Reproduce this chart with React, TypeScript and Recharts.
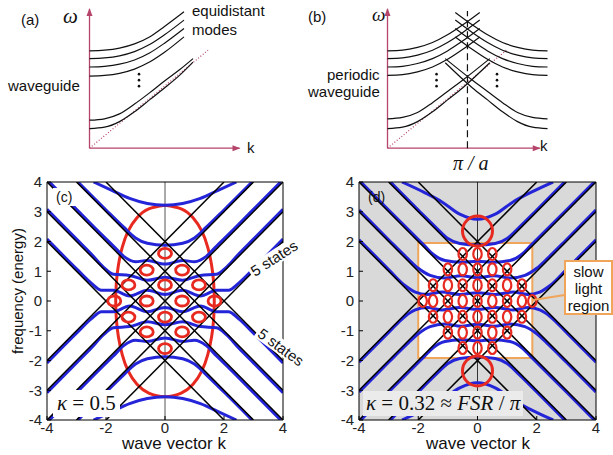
import React from 'react';
import { ComposedChart, Line, Scatter, XAxis, YAxis, ReferenceLine, ReferenceArea } from 'recharts';

type Pt = [number, number];

// ---------- (a) plain waveguide, schematic units ----------
const aUpperModes: Pt[][] = [
  [[0, 6.95], [1, 7.0], [2, 7.15], [3, 7.45], [4, 7.95], [5, 8.7], [6.3, 9.75]],
  [[0, 6.4], [1, 6.45], [2, 6.6], [3, 6.9], [4, 7.4], [5, 8.1], [6.3, 9.15]],
  [[0, 5.8], [1, 5.85], [2, 6.0], [3, 6.3], [4, 6.8], [5, 7.5], [6.3, 8.55]],
  [[0, 5.15], [1, 5.2], [2, 5.35], [3, 5.65], [4, 6.15], [5, 6.85], [6.3, 7.95]],
];
const aLowerModes: Pt[][] = [
  [[0, 2.0], [1, 2.1], [2, 2.45], [3, 3.15], [4, 3.95], [5, 4.8], [6, 5.6], [6.9, 6.4]],
  [[0, 1.4], [1, 1.5], [2, 1.9], [3, 2.6], [4, 3.45], [5, 4.3], [6, 5.2], [6.9, 6.15]],
];
const aLightLine: Pt[] = [[0, 0], [7.9, 7.0]];
const aDots: Pt[] = [[3.3, 5.29], [3.3, 4.86], [3.3, 4.43]];

// ---------- (b) periodic waveguide ----------
const bZoneEdge = 5.33;
const bRising: Pt[][] = [
  [[0, 6.95], [1, 7.0], [2, 7.2], [3, 7.55], [4, 8.1], [5, 8.8], [6.15, 9.7]],
  [[0, 6.4], [1, 6.45], [2, 6.65], [3, 7.0], [4, 7.55], [5, 8.25], [6.15, 9.15]],
  [[0, 5.8], [1, 5.85], [2, 6.05], [3, 6.4], [4, 6.95], [5, 7.65], [6.15, 8.55]],
  [[0, 5.2], [1, 5.25], [2, 5.45], [3, 5.8], [4, 6.35], [5, 7.05], [6.15, 7.95]],
];
const bFalling: Pt[][] = [
  [[4.52, 9.7], [5.67, 8.8], [6.67, 8.1], [7.67, 7.55], [8.67, 7.2], [9.67, 7.0], [10.67, 6.95]],
  [[4.52, 9.15], [5.67, 8.25], [6.67, 7.55], [7.67, 7.0], [8.67, 6.65], [9.67, 6.45], [10.67, 6.4]],
  [[4.52, 8.55], [5.67, 7.65], [6.67, 6.95], [7.67, 6.4], [8.67, 6.05], [9.67, 5.85], [10.67, 5.8]],
  [[4.52, 7.95], [5.67, 7.05], [6.67, 6.35], [7.67, 5.8], [8.67, 5.45], [9.67, 5.25], [10.67, 5.2]],
];
const bLowRising: Pt[][] = [
  [[0, 2.1], [1, 2.2], [2, 2.55], [3, 3.25], [4, 4.05], [5, 4.85], [6.82, 6.4]],
  [[0, 1.4], [1, 1.5], [2, 1.9], [3, 2.6], [4, 3.45], [5, 4.3], [6.82, 6.1]],
];
const bLowFalling: Pt[][] = [
  [[3.85, 6.4], [5.67, 4.85], [6.67, 4.05], [7.67, 3.25], [8.67, 2.55], [9.67, 2.2], [10.67, 2.1]],
  [[3.85, 6.1], [5.67, 4.3], [6.67, 3.45], [7.67, 2.6], [8.67, 1.9], [9.67, 1.5], [10.67, 1.4]],
];
const bLightLine: Pt[] = [[0, 0], [7.93, 7.0]];
const bDots: Pt[] = [[3.27, 5.29], [3.27, 4.86], [3.27, 4.43], [7.3, 5.29], [7.3, 4.86], [7.3, 4.43]];

// ---------- (c) / (d) band diagrams ----------
const kTicks = [-4, -2, 0, 2, 4];
const wTicks = [-4, -3, -2, -1, 0, 1, 2, 3, 4];

const bareForward: Pt[][] = [
  [[-2, -4], [4, 2]],
  [[-3, -4], [4, 3]],
  [[-4, -4], [4, 4]],
  [[-4, -3], [3, 4]],
  [[-4, -2], [2, 4]],
];
const bareBackward: Pt[][] = [
  [[-4, 2], [2, -4]],
  [[-4, 3], [3, -4]],
  [[-4, 4], [4, -4]],
  [[-3, 4], [4, -3]],
  [[-2, 4], [4, -2]],
];

const cBandsUpper: Pt[][] = [
  [[-4, 2.08], [-3, 1.08], [-2.5, 0.6], [-2.15, 0.36], [-1.75, 0.36], [-1.2, 0.17], [-0.6, 0.36], [0, 0.22], [0.6, 0.36], [1.2, 0.17], [1.75, 0.36], [2.15, 0.36], [2.5, 0.6], [3, 1.08], [4, 2.08]],
  [[-4, 3.08], [-3, 2.08], [-2.5, 1.58], [-2.1, 1.15], [-1.75, 0.9], [-1.2, 0.86], [-0.6, 0.7], [0, 0.8], [0.6, 0.7], [1.2, 0.86], [1.75, 0.9], [2.1, 1.15], [2.5, 1.58], [3, 2.08], [4, 3.08]],
  [[-3.92, 4], [-3, 3.08], [-2.2, 2.28], [-1.75, 1.85], [-1.4, 1.5], [-1.0, 1.32], [-0.6, 1.36], [0, 1.24], [0.6, 1.36], [1.0, 1.32], [1.4, 1.5], [1.75, 1.85], [2.2, 2.28], [3, 3.08], [3.92, 4]],
  [[-2.95, 4], [-2, 3.06], [-1.4, 2.48], [-1.0, 2.12], [-0.6, 1.94], [0, 1.87], [0.6, 1.94], [1.0, 2.12], [1.4, 2.48], [2, 3.06], [2.95, 4]],
  [[-2.42, 4], [-1.8, 3.72], [-1.2, 3.45], [-0.6, 3.28], [0, 3.22], [0.6, 3.28], [1.2, 3.45], [1.8, 3.72], [2.42, 4]],
];
const cBandsLower: Pt[][] = [
  [[-4, -2.08], [-3, -1.08], [-2.5, -0.6], [-2.15, -0.36], [-1.75, -0.36], [-1.2, -0.17], [-0.6, -0.36], [0, -0.22], [0.6, -0.36], [1.2, -0.17], [1.75, -0.36], [2.15, -0.36], [2.5, -0.6], [3, -1.08], [4, -2.08]],
  [[-4, -3.08], [-3, -2.08], [-2.5, -1.58], [-2.1, -1.15], [-1.75, -0.9], [-1.2, -0.86], [-0.6, -0.7], [0, -0.8], [0.6, -0.7], [1.2, -0.86], [1.75, -0.9], [2.1, -1.15], [2.5, -1.58], [3, -2.08], [4, -3.08]],
  [[-3.92, -4], [-3, -3.08], [-2.2, -2.28], [-1.75, -1.85], [-1.4, -1.5], [-1.0, -1.32], [-0.6, -1.36], [0, -1.24], [0.6, -1.36], [1.0, -1.32], [1.4, -1.5], [1.75, -1.85], [2.2, -2.28], [3, -3.08], [3.92, -4]],
  [[-2.95, -4], [-2, -3.06], [-1.4, -2.48], [-1.0, -2.12], [-0.6, -1.94], [0, -1.87], [0.6, -1.94], [1.0, -2.12], [1.4, -2.48], [2, -3.06], [2.95, -4]],
  [[-2.42, -4], [-1.8, -3.72], [-1.2, -3.45], [-0.6, -3.28], [0, -3.22], [0.6, -3.28], [1.2, -3.45], [1.8, -3.72], [2.42, -4]],
];
const cEllipse: Pt[] = [
  [0, 3.22], [0.55, 3.1], [0.95, 2.8], [1.25, 2.35], [1.45, 1.8], [1.58, 1.2], [1.65, 0.6], [1.67, 0],
  [1.65, -0.6], [1.58, -1.2], [1.45, -1.8], [1.25, -2.35], [0.95, -2.8], [0.55, -3.1], [0, -3.22],
  [-0.55, -3.1], [-0.95, -2.8], [-1.25, -2.35], [-1.45, -1.8], [-1.58, -1.2], [-1.65, -0.6], [-1.67, 0],
  [-1.65, 0.6], [-1.58, 1.2], [-1.45, 1.8], [-1.25, 2.35], [-0.95, 2.8], [-0.55, 3.1], [0, 3.22],
];
const cLoops: Pt[] = [
  [0, 1.6], [0, 0.54], [0, -0.54], [0, -1.6],
  [-0.62, 1.04], [0.58, 1.04], [-0.62, 0], [0.58, 0], [-0.62, -1.04], [0.58, -1.04],
  [-1.24, 0.54], [1.15, 0.54], [-1.24, -0.54], [1.15, -0.54],
  [-1.72, 0], [1.68, 0],
];

const dBandsUpper: Pt[][] = [
  [[-4, 2.06], [-3, 1.06], [-2.45, 0.52], [-2.1, 0.3], [-1.7, 0.22], [-1.2, 0.3], [-0.6, 0.22], [0, 0.28], [0.6, 0.22], [1.2, 0.3], [1.7, 0.22], [2.1, 0.3], [2.45, 0.52], [3, 1.06], [4, 2.06]],
  [[-4, 3.06], [-3, 2.06], [-2.4, 1.47], [-2.0, 1.1], [-1.6, 0.86], [-1.1, 0.77], [-0.55, 0.85], [0, 0.78], [0.55, 0.85], [1.1, 0.77], [1.6, 0.86], [2.0, 1.1], [2.4, 1.47], [3, 2.06], [4, 3.06]],
  [[-3.94, 4], [-3, 3.06], [-2.2, 2.27], [-1.8, 1.87], [-1.5, 1.57], [-1.1, 1.36], [-0.55, 1.3], [0, 1.34], [0.55, 1.3], [1.1, 1.36], [1.5, 1.57], [1.8, 1.87], [2.2, 2.27], [3, 3.06], [3.94, 4]],
  [[-2.94, 4], [-2, 3.06], [-1.4, 2.47], [-1.0, 2.1], [-0.6, 1.93], [0, 1.88], [0.6, 1.93], [1.0, 2.1], [1.4, 2.47], [2, 3.06], [2.94, 4]],
  [[-2.55, 4], [-1.8, 3.65], [-1.2, 3.33], [-0.6, 2.92], [0, 2.75], [0.6, 2.92], [1.2, 3.33], [1.8, 3.65], [2.55, 4]],
];
const dBandsLower: Pt[][] = [
  [[-4, -2.06], [-3, -1.06], [-2.45, -0.52], [-2.1, -0.3], [-1.7, -0.22], [-1.2, -0.3], [-0.6, -0.22], [0, -0.28], [0.6, -0.22], [1.2, -0.3], [1.7, -0.22], [2.1, -0.3], [2.45, -0.52], [3, -1.06], [4, -2.06]],
  [[-4, -3.06], [-3, -2.06], [-2.4, -1.47], [-2.0, -1.1], [-1.6, -0.86], [-1.1, -0.77], [-0.55, -0.85], [0, -0.78], [0.55, -0.85], [1.1, -0.77], [1.6, -0.86], [2.0, -1.1], [2.4, -1.47], [3, -2.06], [4, -3.06]],
  [[-3.94, -4], [-3, -3.06], [-2.2, -2.27], [-1.8, -1.87], [-1.5, -1.57], [-1.1, -1.36], [-0.55, -1.3], [0, -1.34], [0.55, -1.3], [1.1, -1.36], [1.5, -1.57], [1.8, -1.87], [2.2, -2.27], [3, -3.06], [3.94, -4]],
  [[-2.94, -4], [-2, -3.06], [-1.4, -2.47], [-1.0, -2.1], [-0.6, -1.93], [0, -1.88], [0.6, -1.93], [1.0, -2.1], [1.4, -2.47], [2, -3.06], [2.94, -4]],
  [[-2.55, -4], [-1.8, -3.65], [-1.2, -3.33], [-0.6, -2.92], [0, -2.75], [0.6, -2.92], [1.2, -3.33], [1.8, -3.65], [2.55, -4]],
];
const dLoops: Pt[] = [
  [-1.85, 0], [-1.5, 0], [-1, 0], [-0.5, 0], [0, 0], [0.5, 0], [1, 0], [1.5, 0], [1.85, 0],
  [-1.5, 0.53], [-1, 0.53], [-0.5, 0.53], [0, 0.53], [0.5, 0.53], [1, 0.53], [1.5, 0.53],
  [-1.5, -0.53], [-1, -0.53], [-0.5, -0.53], [0, -0.53], [0.5, -0.53], [1, -0.53], [1.5, -0.53],
  [-1, 1.06], [-0.5, 1.06], [0, 1.06], [0.5, 1.06], [1, 1.06],
  [-1, -1.06], [-0.5, -1.06], [0, -1.06], [0.5, -1.06], [1, -1.06],
  [-0.5, 1.58], [0, 1.58], [0.5, 1.58],
  [-0.5, -1.58], [0, -1.58], [0.5, -1.58],
];
const dRings: Pt[] = [[0, 2.35], [0, -2.35]];
const slowK: Pt = [-2, 1.85];
const slowW: Pt = [-1.92, 1.95];

const BLUE = '#2424d8';
const RED = '#e8291f';
const PINK = '#b5456b';
const ORANGE = '#f0a55a';
const SANS = 'Arial, "Liberation Sans", sans-serif';
const SERIF = '"Times New Roman", "Liberation Serif", serif';

const pts = (a: Pt[]) => a.map(([x, y]) => ({ x, y }));

const curve = (d: Pt[], key: string, stroke: string, width: number, type: any = 'monotone', dash?: string) => (
  <Line
    key={key}
    data={pts(d)}
    dataKey="y"
    type={type}
    stroke={stroke}
    strokeWidth={width}
    strokeDasharray={dash}
    dot={false}
    activeDot={false}
    isAnimationActive={false}
  />
);

const dotShape = (p: any) => <circle cx={p.cx} cy={p.cy} r={1.3} fill="#111" />;
const arrowRight = (p: any) => (
  <polygon points={`${p.cx + 1},${p.cy} ${p.cx - 7},${p.cy - 3} ${p.cx - 7},${p.cy + 3}`} fill={PINK} />
);
const arrowUp = (p: any) => (
  <polygon points={`${p.cx},${p.cy - 1} ${p.cx - 3},${p.cy + 7} ${p.cx + 3},${p.cy + 7}`} fill={PINK} />
);
const loopC = (p: any) => <ellipse cx={p.cx} cy={p.cy} rx={6.5} ry={5} fill="none" stroke={RED} strokeWidth={2.8} />;
const loopD = (p: any) => <ellipse cx={p.cx} cy={p.cy} rx={4.2} ry={6} fill="none" stroke={RED} strokeWidth={2.2} />;
const ringD = (p: any) => <circle cx={p.cx} cy={p.cy} r={15} fill="none" stroke={RED} strokeWidth={3} />;

function Label({ x, y, size = 15, font = SANS, children, style = {} }: any) {
  return (
    <div
      style={{
        position: 'absolute',
        left: x,
        top: y,
        fontSize: size,
        fontFamily: font,
        lineHeight: 1,
        whiteSpace: 'nowrap',
        color: '#111',
        ...style,
      }}
    >
      {children}
    </div>
  );
}

function schematicAxes(xEnd: number) {
  return [
    curve([[0, 0], [xEnd, 0]], 'ax', PINK, 1.3, 'linear'),
    curve([[0, 0], [0, 9.95]], 'ay', PINK, 1.3, 'linear'),
    <Scatter key="arx" data={pts([[xEnd, 0]])} dataKey="y" shape={arrowRight} isAnimationActive={false} />,
    <Scatter key="ary" data={pts([[0, 9.95]])} dataKey="y" shape={arrowUp} isAnimationActive={false} />,
  ];
}

function SchematicChart({ left, children }: any) {
  return (
    <div style={{ position: 'absolute', left, top: 3.8 }}>
      <ComposedChart width={169.5} height={148.4} margin={{ top: 0, right: 0, bottom: 0, left: 0 }}>
        <XAxis type="number" dataKey="x" domain={[-0.3, 11]} hide allowDataOverflow />
        <YAxis type="number" dataKey="y" domain={[-0.3, 10.3]} hide allowDataOverflow />
        {children}
      </ComposedChart>
    </div>
  );
}

const tickFont = { fontSize: 15, fill: '#222', fontFamily: SANS };

function frameAxes() {
  return [
    <XAxis key="xb" type="number" dataKey="x" domain={[-4, 4]} ticks={kTicks} height={20} tickSize={-4} tickMargin={6}
      tick={tickFont} stroke="#000" allowDataOverflow interval={0} />,
    <XAxis key="xt" xAxisId="t" orientation="top" type="number" domain={[-4, 4]} ticks={kTicks} height={1} tickSize={-4}
      tick={false} stroke="#000" allowDataOverflow />,
    <YAxis key="yl" type="number" dataKey="y" domain={[-4, 4]} ticks={wTicks} width={40} tickSize={-4} tickMargin={9}
      tick={tickFont} stroke="#000" allowDataOverflow interval={0} />,
    <YAxis key="yr" yAxisId="r" orientation="right" type="number" domain={[-4, 4]} ticks={wTicks} width={1} tickSize={-4}
      tick={false} stroke="#000" allowDataOverflow />,
  ];
}

function bareLines() {
  return [
    ...bareForward.map((l, i) => curve(l, `f${i}`, '#000', 1.5, 'linear')),
    ...bareBackward.map((l, i) => curve(l, `b${i}`, '#000', 1.5, 'linear')),
  ];
}

const bandMargin = (left: number) => ({ top: 11, right: 16, bottom: 0, left });

export default function App() {
  return (
    <div style={{ position: 'fixed', left: 0, top: 0, width: 613, height: 455, background: '#fff', overflow: 'hidden' }}>
      {/* (a) */}
      <SchematicChart left={84.5}>
        {schematicAxes(10)}
        {curve(aLightLine, 'light', PINK, 1.2, 'linear', '1 2')}
        {aUpperModes.map((m, i) => curve(m, `au${i}`, '#111', 1.2))}
        {aLowerModes.map((m, i) => curve(m, `al${i}`, '#111', 1.2))}
        <Scatter data={pts(aDots)} dataKey="y" shape={dotShape} isAnimationActive={false} />
      </SchematicChart>

      {/* (b) */}
      <SchematicChart left={382.5}>
        {schematicAxes(10.15)}
        {curve(bLightLine, 'light', PINK, 1.2, 'linear', '1 2')}
        {curve([[bZoneEdge, 0], [bZoneEdge, 9.8]], 'edge', '#111', 1.2, 'linear', '7 4')}
        {bRising.map((m, i) => curve(m, `br${i}`, '#111', 1.2))}
        {bFalling.map((m, i) => curve(m, `bf${i}`, '#111', 1.2))}
        {bLowRising.map((m, i) => curve(m, `blr${i}`, '#111', 1.2))}
        {bLowFalling.map((m, i) => curve(m, `blf${i}`, '#111', 1.2))}
        <Scatter data={pts(bDots)} dataKey="y" shape={dotShape} isAnimationActive={false} />
      </SchematicChart>

      {/* (c) */}
      <div style={{ position: 'absolute', left: 0, top: 170 }}>
        <ComposedChart width={300} height={270} margin={bandMargin(7)}>
          {frameAxes()}
          <ReferenceLine x={0} stroke="#555" strokeWidth={1} />
          {curve(cEllipse, 'ell', RED, 3, 'natural')}
          <Scatter data={pts(cLoops)} dataKey="y" shape={loopC} isAnimationActive={false} />
          {cBandsUpper.map((b, i) => curve(b, `cu${i}`, BLUE, 3))}
          {cBandsLower.map((b, i) => curve(b, `cl${i}`, BLUE, 3))}
          {bareLines()}
        </ComposedChart>
      </div>

      {/* (d) */}
      <div style={{ position: 'absolute', left: 306, top: 170 }}>
        <ComposedChart width={307} height={270} margin={bandMargin(13)}>
          {frameAxes()}
          <ReferenceArea x1={-4} x2={4} y1={-4} y2={4} fill="#d9d9d9" fillOpacity={1} stroke="none" />
          <ReferenceArea x1={slowK[0]} x2={slowK[1]} y1={slowW[0]} y2={slowW[1]} fill="#fff" fillOpacity={1}
            stroke={ORANGE} strokeWidth={2} />
          <ReferenceLine x={0} stroke="#333" strokeWidth={1} />
          <Scatter data={pts(dRings)} dataKey="y" shape={ringD} isAnimationActive={false} />
          <Scatter data={pts(dLoops)} dataKey="y" shape={loopD} isAnimationActive={false} />
          {dBandsUpper.map((b, i) => curve(b, `du${i}`, BLUE, 3))}
          {dBandsLower.map((b, i) => curve(b, `dl${i}`, BLUE, 3))}
          {bareLines()}
        </ComposedChart>
      </div>

      {/* texts (a) */}
      <Label x={21} y={12}>(a)</Label>
      <Label x={63} y={6} size={21} font={SERIF} style={{ fontStyle: 'italic' }}>ω</Label>
      <Label x={192} y={3}>equidistant</Label>
      <Label x={192} y={22}>modes</Label>
      <Label x={8} y={78}>waveguide</Label>
      <Label x={247} y={140}>k</Label>

      {/* texts (b) */}
      <Label x={308} y={9}>(b)</Label>
      <Label x={372} y={5} size={19} font={SERIF} style={{ fontStyle: 'italic' }}>ω</Label>
      <Label x={327} y={67}>periodic</Label>
      <Label x={308} y={84}>waveguide</Label>
      <Label x={540} y={138}>k</Label>
      <Label x={453} y={153} size={20} font={SERIF} style={{ fontStyle: 'italic' }}>π / a</Label>

      {/* texts (c) */}
      <Label x={53} y={188} size={14} style={{ background: '#fff', padding: '2px 3px' }}>(c)</Label>
      <Label x={53} y={390} size={21} font={SERIF} style={{ background: '#fff', padding: '3px 4px' }}>
        <i>κ</i> = 0.5
      </Label>
      <Label x={274} y={258} size={15}
        style={{ background: '#fff', padding: '0 2px', transform: 'translate(-50%,-50%) rotate(-33deg)' }}>
        5 states
      </Label>
      <Label x={281} y={347} size={15}
        style={{ background: '#fff', padding: '0 2px', transform: 'translate(-50%,-50%) rotate(36deg)' }}>
        5 states
      </Label>
      <Label x={17} y={291} size={15} style={{ transform: 'translate(-50%,-50%) rotate(-90deg)' }}>
        frequency (energy)
      </Label>
      <Label x={174} y={435} size={17} style={{ transform: 'translateX(-50%)' }}>wave vector k</Label>

      {/* texts (d) */}
      <Label x={368} y={190} size={14}>(d)</Label>
      <Label x={363} y={391} size={21} font={SERIF} style={{ background: '#ebebeb', padding: '2px 3px' }}>
        <i>κ</i> = 0.32 ≈ <i>FSR</i> / <i>π</i>
      </Label>
      <Label x={478} y={435} size={17} style={{ transform: 'translateX(-50%)' }}>wave vector k</Label>
      <div style={{ position: 'absolute', left: 533, top: 299, width: 32, height: 2, background: ORANGE, transform: 'rotate(-9deg)', transformOrigin: '0 50%' }} />
      <div
        style={{
          position: 'absolute', left: 564, top: 260, width: 45, height: 50, border: `2px solid ${ORANGE}`,
          background: '#fff', fontFamily: SANS, fontSize: 15, lineHeight: '17px', textAlign: 'center', color: '#111',
          paddingTop: 1,
        }}
      >
        slow<br />light<br />region
      </div>
    </div>
  );
}
